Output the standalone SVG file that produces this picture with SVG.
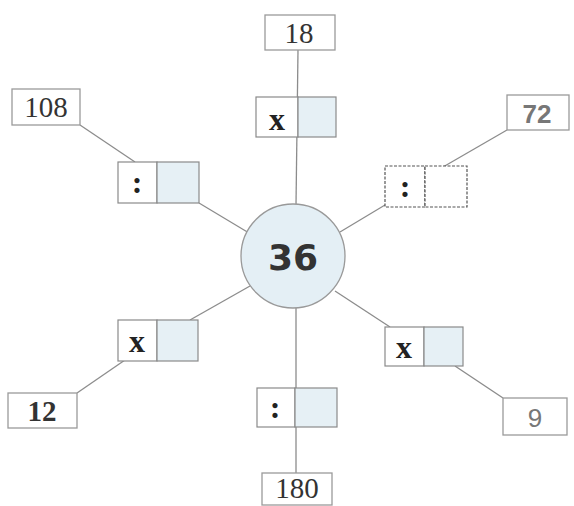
<svg xmlns="http://www.w3.org/2000/svg" width="574" height="506" viewBox="0 0 574 506">
<style>
.num{fill:#fff;stroke:#9a9a9a;stroke-width:1.3}
.cellw{fill:#fff;stroke:#8a8a8a;stroke-width:1.2}
.cellb{fill:#e6f0f5;stroke:#8a8a8a;stroke-width:1.2}
.dash{stroke-dasharray:3 1.5;stroke:#555}
.t{font-family:"Liberation Serif",serif;font-size:29px;text-anchor:middle;fill:#333}
.g{font-family:"Liberation Sans",sans-serif;font-size:26px;text-anchor:middle;fill:#777}
.op{font-family:"Liberation Serif",serif;font-weight:bold;font-size:32px;text-anchor:middle;fill:#222}
.c{stroke:#8c8c8c;stroke-width:1.3;fill:none}
</style>
<rect width="574" height="506" fill="#fff"/>
<g id="connectors">
<line class="c" x1="298" y1="50" x2="296" y2="205"/>
<line class="c" x1="80" y1="125" x2="135" y2="162"/>
<line class="c" x1="199" y1="203" x2="249" y2="233"/>
<line class="c" x1="507" y1="130" x2="443" y2="167"/>
<line class="c" x1="385" y1="205" x2="340" y2="232"/>
<line class="c" x1="190" y1="320" x2="250" y2="286"/>
<line class="c" x1="125" y1="360" x2="77" y2="393"/>
<line class="c" x1="335" y1="291" x2="390" y2="327"/>
<line class="c" x1="455" y1="366" x2="503" y2="398"/>
<line class="c" x1="296" y1="308" x2="296" y2="473"/>
</g>
<g id="center">
<circle cx="293" cy="256" r="52" fill="#e4eff5" stroke="#999" stroke-width="1.3"/>
<text x="293" y="270" font-family="'DejaVu Sans',sans-serif" font-weight="bold" font-size="36" text-anchor="middle" fill="#333">36</text>
</g>
<g id="n18"><rect class="num" x="265" y="15" width="70" height="35"/><text class="t" x="299" y="43">18</text></g>
<g id="op-top"><rect class="cellw" x="256" y="97" width="42" height="40"/><rect class="cellb" x="298" y="97" width="38" height="40" fill="#eef4f7"/><text class="op" x="277" y="130">x</text></g>
<g id="n108"><rect class="num" x="12" y="89" width="68" height="36"/><text class="t" x="46" y="117">108</text></g>
<g id="op-tl"><rect class="cellw" x="118" y="162" width="39" height="41"/><rect class="cellb" x="157" y="162" width="42" height="41"/><text class="op" x="137" y="193">:</text></g>
<g id="n72"><rect class="num" x="507" y="95" width="62" height="35"/><text class="g" x="537" y="123" font-weight="bold">72</text></g>
<g id="op-tr"><rect class="cellw dash" x="385" y="166" width="40" height="41"/><rect class="cellw dash" x="425" y="166" width="42" height="41"/><text class="op" x="405" y="197">:</text></g>
<g id="op-bl"><rect class="cellw" x="118" y="320" width="39" height="41"/><rect class="cellb" x="157" y="320" width="41" height="41" fill="#dde9f1"/><text class="op" x="137" y="352">x</text></g>
<g id="n12"><rect class="num" x="8" y="393" width="69" height="35"/><text class="t" x="42" y="421" font-weight="bold" fill="#666">12</text></g>
<g id="op-br"><rect class="cellw" x="385" y="327" width="39" height="39"/><rect class="cellb" x="424" y="327" width="39" height="39" fill="#eef4f7"/><text class="op" x="404" y="358" font-family="'Liberation Sans',sans-serif" font-size="28">x</text></g>
<g id="n9"><rect class="num" x="503" y="398" width="64" height="37"/><text class="g" x="535" y="427" font-size="28">9</text></g>
<g id="op-bottom"><rect class="cellw" x="257" y="388" width="38" height="39"/><rect class="cellb" x="295" y="388" width="42" height="39"/><text class="op" x="275" y="418">:</text></g>
<g id="n180"><rect class="num" x="262" y="473" width="70" height="32"/><text class="t" x="297" y="498" font-size="27">180</text></g>
</svg>
